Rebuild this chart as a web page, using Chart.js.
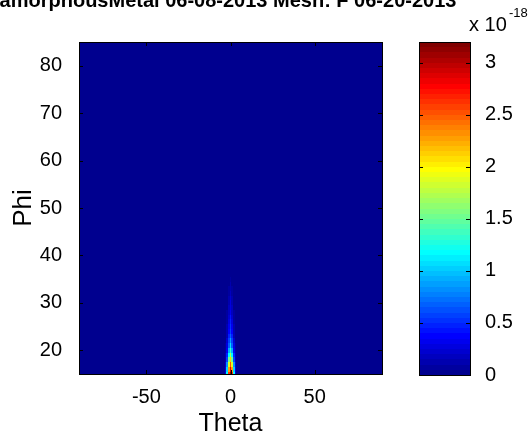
<!DOCTYPE html>
<html>
<head>
<meta charset="utf-8">
<script src="https://cdn.jsdelivr.net/npm/chart.js@4.4.1/dist/chart.umd.min.js"></script>
<style>
  html, body { margin: 0; padding: 0; background: #fff; }
  #wrap { position: relative; width: 532px; height: 436px; overflow: hidden; }
  #wrap canvas { position: absolute; left: 0; top: 0; }
</style>
</head>
<body>
<div id="wrap">
  <canvas id="mapa" width="532" height="436"></canvas>
  <canvas id="barra" width="532" height="436"></canvas>
</div>
<script>
// datos
const titulo = 'amorphousMetal 06-08-2013 Mesh: F 06-20-2013';
const thetaMin = -90, thetaMax = 90;
const phiMin = 15, phiMax = 85;
const thetaTicks = [-50, 0, 50];
const phiTicks = [20, 30, 40, 50, 60, 70, 80];
const cbTicks = [0, 0.5, 1, 1.5, 2, 2.5, 3];
const cbMax = 3.2; // x 10^-18

// el chorro cerca de theta = 0 (valores en 1e-18), el resto es 0
const chorroTheta = [-3, -2, -1, 0, 1, 2, 3];
const chorroPhi = [15, 16, 17, 18, 19, 20, 21, 22, 23, 24, 25, 26, 27, 28, 29, 30, 31, 32, 33, 34, 35, 36];
const chorro = [
  [0.3, 1.2, 2.6, 3.2, 2.6, 1.2, 0.3],
  [0.25, 1.0, 2.3, 2.9, 2.3, 1.0, 0.25],
  [0.2, 0.8, 1.9, 2.5, 1.9, 0.8, 0.2],
  [0.15, 0.6, 1.5, 2.1, 1.5, 0.6, 0.15],
  [0.1, 0.45, 1.2, 1.7, 1.2, 0.45, 0.1],
  [0.08, 0.35, 0.9, 1.3, 0.9, 0.35, 0.08],
  [0.05, 0.25, 0.7, 1.05, 0.7, 0.25, 0.05],
  [0.03, 0.2, 0.55, 0.85, 0.55, 0.2, 0.03],
  [0.02, 0.15, 0.45, 0.7, 0.45, 0.15, 0.02],
  [0.01, 0.12, 0.38, 0.6, 0.38, 0.12, 0.01],
  [0, 0.1, 0.32, 0.52, 0.32, 0.1, 0],
  [0, 0.08, 0.27, 0.45, 0.27, 0.08, 0],
  [0, 0.06, 0.23, 0.4, 0.23, 0.06, 0],
  [0, 0.05, 0.19, 0.35, 0.19, 0.05, 0],
  [0, 0.04, 0.16, 0.3, 0.16, 0.04, 0],
  [0, 0.03, 0.13, 0.26, 0.13, 0.03, 0],
  [0, 0.02, 0.1, 0.22, 0.1, 0.02, 0],
  [0, 0.01, 0.08, 0.18, 0.08, 0.01, 0],
  [0, 0, 0.06, 0.15, 0.06, 0, 0],
  [0, 0, 0.04, 0.11, 0.04, 0, 0],
  [0, 0, 0.02, 0.07, 0.02, 0, 0],
  [0, 0, 0.01, 0.03, 0.01, 0, 0]
];

const fuente = "'Liberation Sans', Arial, sans-serif";

// jet(64) de matlab
function jet(v) {
  let k = Math.floor(v / cbMax * 64);
  if (k < 0) k = 0;
  if (k > 63) k = 63;
  const lim = x => Math.max(0, Math.min(1, x));
  const r = lim(Math.min((k - 23) / 16, (71 - k) / 16));
  const g = lim(Math.min((k - 7) / 16, (55 - k) / 16));
  const b = lim(Math.min((k + 9) / 16, (39 - k) / 16));
  return `rgb(${Math.round(r * 255)},${Math.round(g * 255)},${Math.round(b * 255)})`;
}

function valor(theta, phi) {
  const i = chorroPhi.indexOf(phi);
  const j = chorroTheta.indexOf(theta);
  if (i === -1 || j === -1) return 0;
  return chorro[i][j];
}

// ticks hacia adentro en los cuatro lados
function marcas(chart, ejeX, ejeY, largo) {
  const ctx = chart.ctx;
  const a = chart.chartArea;
  ctx.save();
  ctx.strokeStyle = '#000';
  ctx.lineWidth = 1;
  ctx.beginPath();
  if (ejeX) {
    chart.scales[ejeX].ticks.forEach(t => {
      const x = Math.round(chart.scales[ejeX].getPixelForValue(t.value)) + 0.5;
      ctx.moveTo(x, a.bottom); ctx.lineTo(x, a.bottom - largo);
      ctx.moveTo(x, a.top); ctx.lineTo(x, a.top + largo);
    });
  }
  chart.scales[ejeY].ticks.forEach(t => {
    const y = Math.round(chart.scales[ejeY].getPixelForValue(t.value)) + 0.5;
    ctx.moveTo(a.left, y); ctx.lineTo(a.left + largo, y);
    ctx.moveTo(a.right, y); ctx.lineTo(a.right - largo, y);
  });
  ctx.stroke();
  ctx.strokeRect(Math.round(a.left) + 0.5, Math.round(a.top) + 0.5,
    Math.round(a.right - a.left), Math.round(a.bottom - a.top));
  ctx.restore();
}

const pluginMapa = {
  id: 'mapaCalor',
  beforeDatasetsDraw(chart) {
    const ctx = chart.ctx;
    const a = chart.chartArea;
    const sx = chart.scales.x, sy = chart.scales.y;
    ctx.save();
    ctx.beginPath();
    ctx.rect(a.left, a.top, a.right - a.left, a.bottom - a.top);
    ctx.clip();
    for (let theta = thetaMin; theta <= thetaMax; theta++) {
      const x1 = Math.round(sx.getPixelForValue(theta - 0.5));
      const x2 = Math.round(sx.getPixelForValue(theta + 0.5));
      for (let phi = phiMin; phi <= phiMax; phi++) {
        const y1 = Math.round(sy.getPixelForValue(phi + 0.5));
        const y2 = Math.round(sy.getPixelForValue(phi - 0.5));
        ctx.fillStyle = jet(valor(theta, phi));
        ctx.fillRect(x1, y1, x2 - x1, y2 - y1);
      }
    }
    ctx.restore();
  },
  afterDraw(chart) {
    marcas(chart, 'x', 'y', 4);
    const ctx = chart.ctx;
    ctx.save();
    ctx.fillStyle = '#000';
    ctx.font = 'bold 20px ' + fuente;
    ctx.textAlign = 'center';
    ctx.textBaseline = 'alphabetic';
    ctx.fillText(titulo, 228, 7);
    ctx.restore();
  }
};

const pluginBarra = {
  id: 'barraColor',
  beforeDatasetsDraw(chart) {
    const ctx = chart.ctx;
    const a = chart.chartArea;
    const sy = chart.scales.y;
    ctx.save();
    for (let k = 0; k < 64; k++) {
      const v0 = k * cbMax / 64, v1 = (k + 1) * cbMax / 64;
      const y1 = Math.round(sy.getPixelForValue(v1));
      const y2 = Math.round(sy.getPixelForValue(v0));
      ctx.fillStyle = jet((v0 + v1) / 2);
      ctx.fillRect(a.left, y1, a.right - a.left, y2 - y1);
    }
    ctx.restore();
  },
  afterDraw(chart) {
    marcas(chart, null, 'y', 4);
    const ctx = chart.ctx;
    ctx.save();
    ctx.fillStyle = '#000';
    ctx.textAlign = 'left';
    ctx.font = '20px ' + fuente;
    ctx.fillText('x 10', 469, 31);
    ctx.font = '13px ' + fuente;
    ctx.fillText('-18', 509, 17);
    ctx.restore();
  }
};

const mapa = new Chart(document.getElementById('mapa'), {
  type: 'scatter',
  data: { datasets: [] },
  options: {
    responsive: false,
    animation: false,
    events: [],
    layout: { padding: { left: 0, right: 150, top: 42, bottom: 0 } },
    plugins: { legend: { display: false }, tooltip: { enabled: false } },
    scales: {
      x: {
        type: 'linear', min: thetaMin, max: thetaMax,
        afterBuildTicks: s => { s.ticks = thetaTicks.map(v => ({ value: v })); },
        afterFit: s => { s.height = 62; },
        grid: { display: false },
        border: { display: false },
        ticks: { color: '#000', font: { family: fuente, size: 20 }, padding: 3, maxRotation: 0 },
        title: { display: true, text: 'Theta', color: '#000', font: { family: fuente, size: 25 }, padding: { top: 0, bottom: -3 } }
      },
      y: {
        type: 'linear', min: phiMin, max: phiMax,
        afterBuildTicks: s => { s.ticks = phiTicks.map(v => ({ value: v })); },
        afterFit: s => { s.width = 79; },
        grid: { display: false },
        border: { display: false },
        ticks: { color: '#000', font: { family: fuente, size: 20 }, padding: 9 },
        title: { display: true, text: 'Phi', color: '#000', font: { family: fuente, size: 26 }, padding: { top: 8, bottom: 0 } }
      }
    }
  },
  plugins: [pluginMapa]
});

const barra = new Chart(document.getElementById('barra'), {
  type: 'scatter',
  data: { datasets: [] },
  options: {
    responsive: false,
    animation: false,
    events: [],
    layout: { padding: { left: 419, right: 0, top: 42, bottom: 61 } },
    plugins: { legend: { display: false }, tooltip: { enabled: false } },
    scales: {
      x: { display: false, min: 0, max: 1 },
      y: {
        type: 'linear', position: 'right', min: 0, max: cbMax,
        afterBuildTicks: s => { s.ticks = cbTicks.map(v => ({ value: v })); },
        afterFit: s => { s.width = 62; },
        grid: { display: false },
        border: { display: false },
        ticks: { color: '#000', font: { family: fuente, size: 20 }, padding: 7, callback: v => String(v) }
      }
    }
  },
  plugins: [pluginBarra]
});
</script>
</body>
</html>
